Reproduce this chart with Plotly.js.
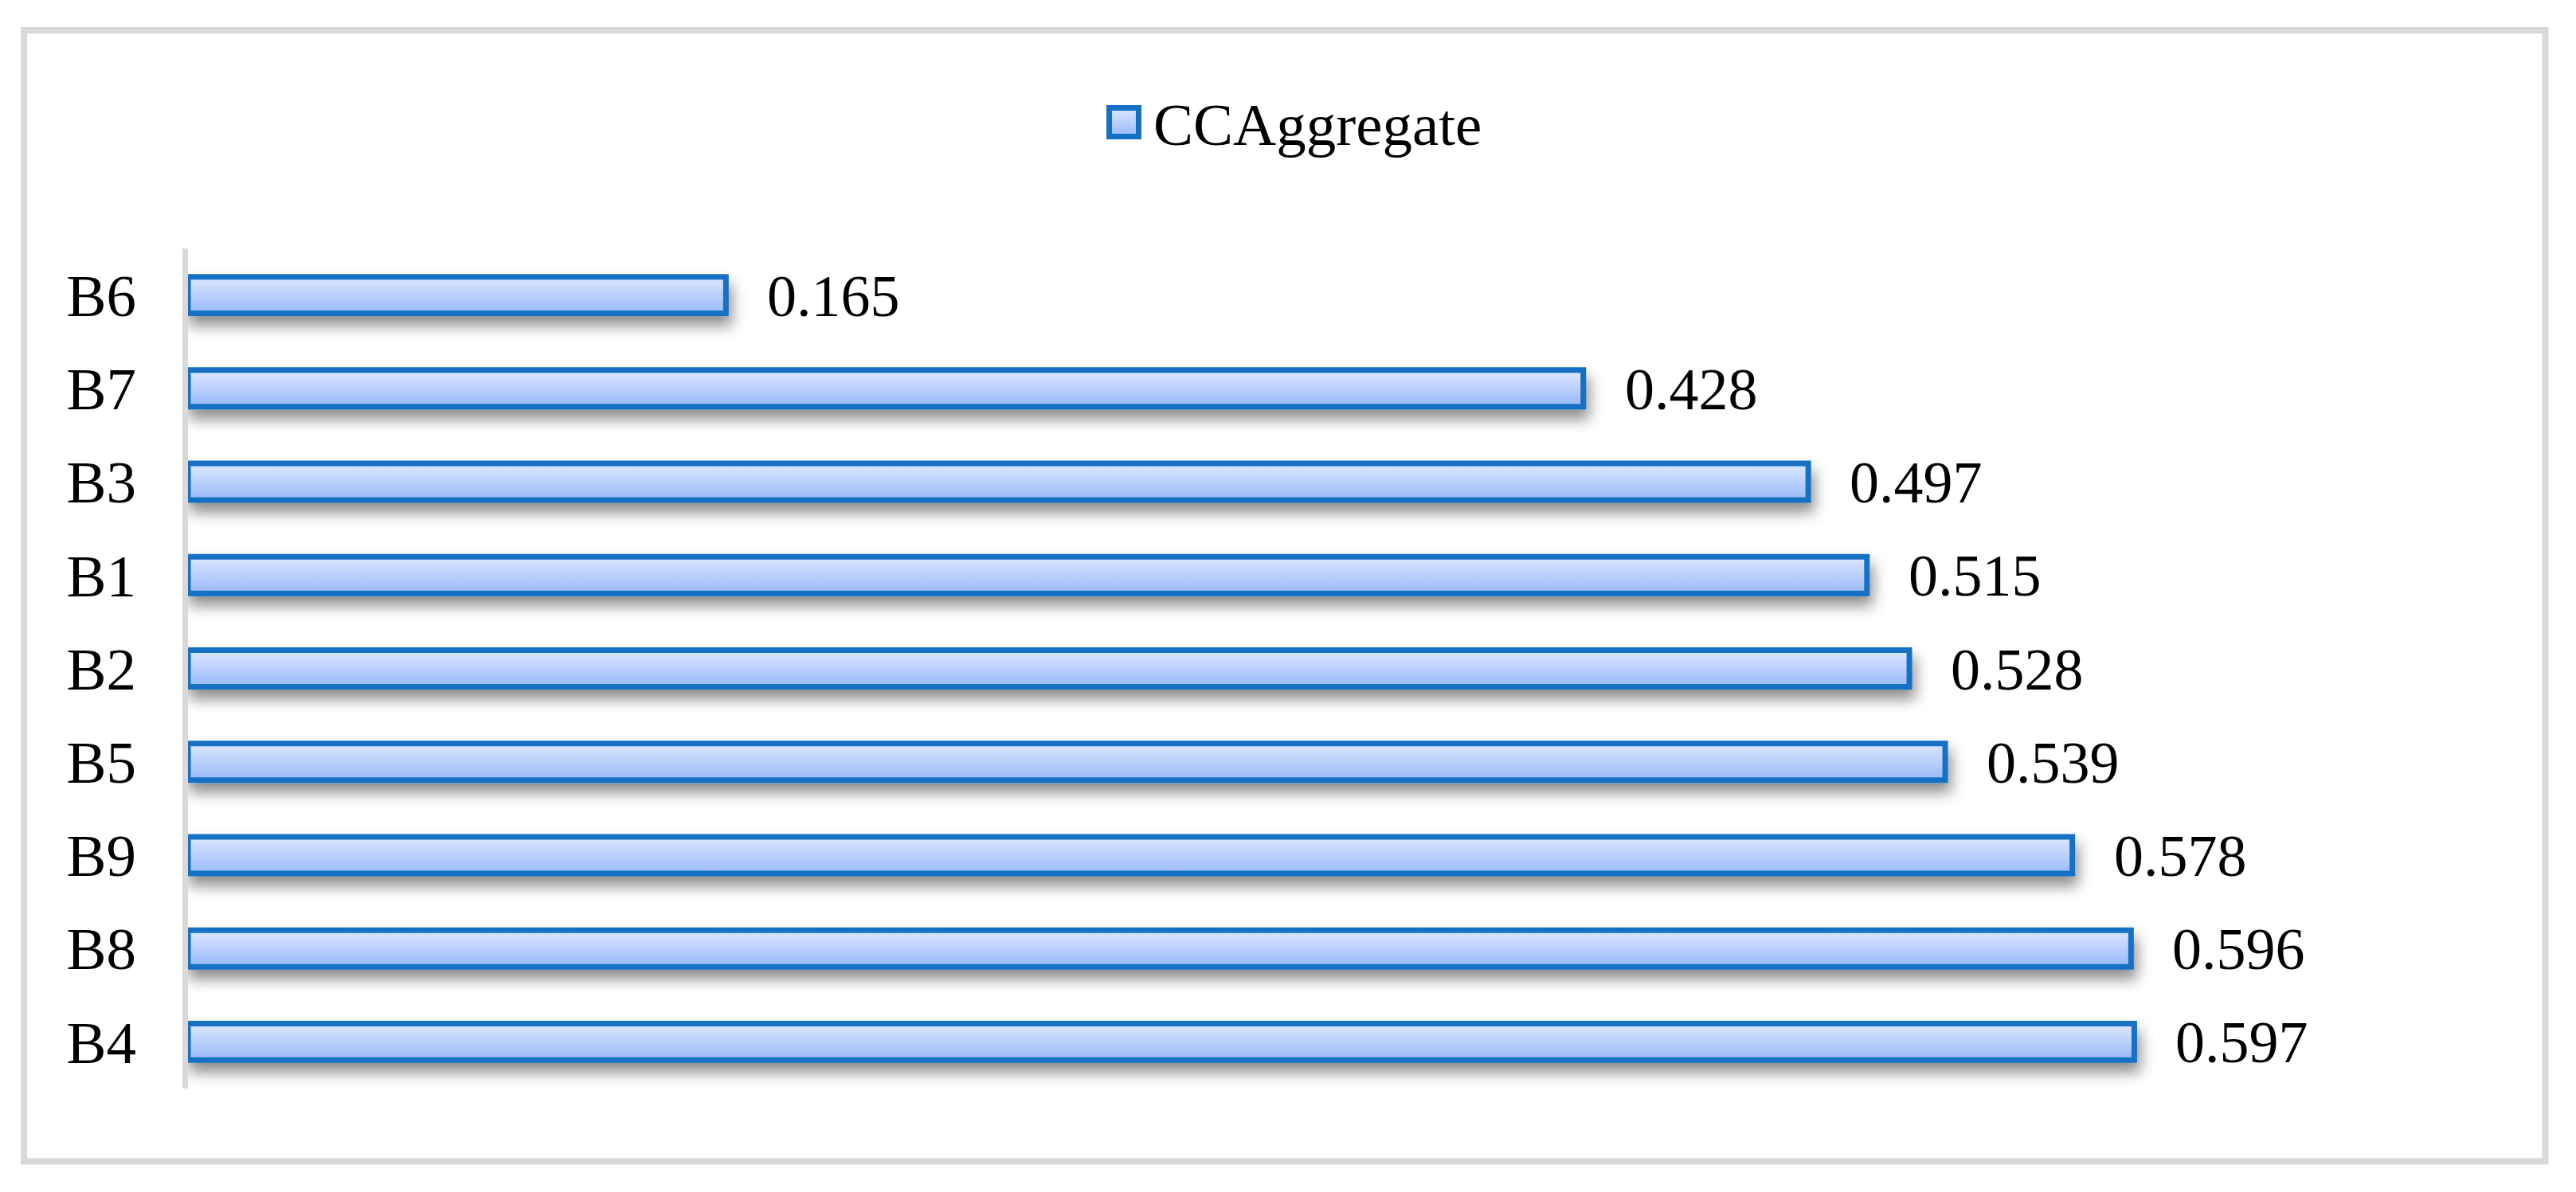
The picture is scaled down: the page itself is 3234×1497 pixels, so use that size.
<!DOCTYPE html>
<html>
<head>
<meta charset="utf-8">
<script src="https://cdn.plot.ly/plotly-3.0.1.min.js"></script>
<style>
  html, body { margin: 0; padding: 0; background: #ffffff; }
  #chart { width: 3234px; height: 1497px; }
</style>
</head>
<body>
<div id="chart"></div>
<script>
// ---- data ----
const categories = ["B4", "B8", "B9", "B5", "B2", "B1", "B3", "B7", "B6"];
const values = [0.597, 0.596, 0.578, 0.539, 0.528, 0.515, 0.497, 0.428, 0.165];
const valueLabels = ["0.597", "0.596", "0.578", "0.539", "0.528", "0.515", "0.497", "0.428", "0.165"];
const seriesName = "CCAggregate";

const FONT = "Liberation Serif, Times New Roman, serif";
const BORDER = "#1670c4";

const trace = {
  type: "bar",
  orientation: "h",
  name: seriesName,
  x: values,
  y: categories,
  marker: { color: "#bcd2fb", line: { color: BORDER, width: 7 } },
  hoverinfo: "x+y",
  showlegend: true
};

const annotations = values.map((v, i) => ({
  x: v, y: categories[i], xref: "x", yref: "y",
  text: valueLabels[i], showarrow: false,
  xanchor: "left", yanchor: "middle", xshift: 50, yshift: -1,
  font: { family: FONT, size: 74, color: "#000000" }
}));

const layout = {
  width: 3234, height: 1497,
  margin: { l: 236, r: 133, t: 312, b: 130, pad: 0 },
  paper_bgcolor: "#ffffff", plot_bgcolor: "#ffffff",
  bargap: 0.608,
  showlegend: true,
  legend: {
    xref: "container", yref: "container",
    x: 1338 / 3234, xanchor: "left",
    y: 1 - 153 / 1497, yanchor: "middle",
    orientation: "h",
    itemwidth: 100,
    font: { family: FONT, size: 75, color: "#000000" },
    bgcolor: "rgba(0,0,0,0)"
  },
  xaxis: {
    range: [0, 0.7], visible: true, showgrid: false, zeroline: false,
    showline: false, showticklabels: false, ticks: "", fixedrange: true
  },
  yaxis: {
    type: "category", categoryorder: "array", categoryarray: categories,
    showgrid: false, zeroline: false, showline: true, linecolor: "#d9d9d9", linewidth: 7,
    ticks: "", ticklabelstandoff: 43,
    tickfont: { family: FONT, size: 75, color: "#000000" },
    fixedrange: true
  },
  annotations: annotations,
  shapes: [{
    type: "rect", xref: "paper", yref: "paper",
    x0: -0.0719, x1: 1.0330, y0: -0.0867, y1: 1.2597,
    line: { color: "#d9d9d9", width: 8 }, fillcolor: "rgba(0,0,0,0)", layer: "below"
  }]
};

function decorate(gd) {
  const svg = gd.querySelector("svg.main-svg");
  if (!svg) return;
  let defs = svg.querySelector("defs");
  if (!defs) { defs = document.createElementNS("http://www.w3.org/2000/svg", "defs"); svg.insertBefore(defs, svg.firstChild); }
  if (!defs.querySelector("#barGrad")) {
    defs.insertAdjacentHTML("beforeend",
      '<linearGradient id="barGrad" x1="0" y1="0" x2="0" y2="1">' +
      '<stop offset="0" stop-color="#dce7fe"/><stop offset="1" stop-color="#98b9f9"/></linearGradient>' +
      '<filter id="barShadow" x="-10%" y="-60%" width="130%" height="260%">' +
      '<feDropShadow dx="4" dy="12" stdDeviation="9" flood-color="#000000" flood-opacity="0.45"/></filter>');
  }
  gd.querySelectorAll("g.barlayer g.point path").forEach(p => {
    p.style.fill = "url(#barGrad)";
    p.style.fillOpacity = 1;
    p.setAttribute("filter", "url(#barShadow)");
  });
  // legend swatch: a square just left of the legend text, like the reference
  const txt = gd.querySelector("g.legend text.legendtext");
  const tb = txt ? txt.getBoundingClientRect() : null;
  const gbox = gd.getBoundingClientRect();
  gd.querySelectorAll("g.legend g.legendpoints path").forEach(p => {
    p.removeAttribute("transform");
    if (tb) {
      const m = p.parentNode.getScreenCTM();
      const sx1 = tb.left - 15 - 3.5, sx0 = sx1 - 44 + 7;
      const sy0 = gbox.top + 132 + 3.5, sy1 = gbox.top + 175 - 3.5;
      const lx0 = (sx0 - m.e) / m.a, lx1 = (sx1 - m.e) / m.a;
      const ly0 = (sy0 - m.f) / m.d, ly1 = (sy1 - m.f) / m.d;
      p.setAttribute("d", `M${lx0},${ly0}H${lx1}V${ly1}H${lx0}Z`);
    }
    p.style.fill = "url(#barGrad)";
    p.style.fillOpacity = 1;
    p.style.stroke = BORDER;
    p.style.strokeOpacity = 1;
    p.style.strokeWidth = "7px";
  });
  gd.querySelectorAll("g.legend [clip-path]").forEach(el => el.removeAttribute("clip-path"));
}

Plotly.newPlot("chart", [trace], layout, { displayModeBar: false, staticPlot: true }).then(gd => {
  decorate(gd);
  gd.on("plotly_afterplot", () => decorate(gd));
});
</script>
</body>
</html>
